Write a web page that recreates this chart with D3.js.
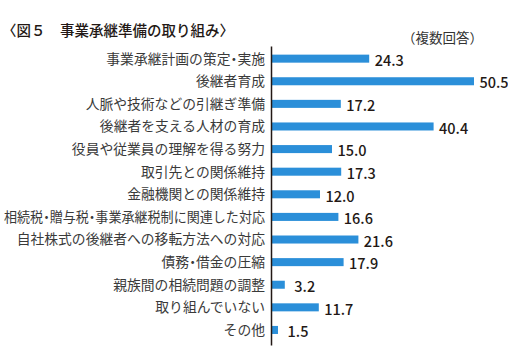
<!DOCTYPE html>
<html><head><meta charset="utf-8">
<script src="https://cdn.jsdelivr.net/npm/d3@7"></script>
<style>
html,body{margin:0;padding:0;background:#fff;}
svg{display:block;font-family:"Noto Sans CJK JP","Noto Sans",sans-serif;}
.lbl{font-feature-settings:"halt";}
</style></head>
<body>
<svg id="chart" width="508" height="358"></svg>
<script>
const titleText = "〈図５　事業承継準備の取り組み〉";
const noteText = "（複数回答）";
const categories = [
  "事業承継計画の策定・実施",
  "後継者育成",
  "人脈や技術などの引継ぎ準備",
  "後継者を支える人材の育成",
  "役員や従業員の理解を得る努力",
  "取引先との関係維持",
  "金融機関との関係維持",
  "相続税・贈与税・事業承継税制に関連した対応",
  "自社株式の後継者への移転方法への対応",
  "債務・借金の圧縮",
  "親族間の相続問題の調整",
  "取り組んでいない",
  "その他"
];
const values = [24.3, 50.5, 17.2, 40.4, 15.0, 17.3, 12.0, 16.6, 21.6, 17.9, 3.2, 11.7, 1.5];

const svg = d3.select("#chart");
const x0 = 272;
const x = d3.scaleLinear().domain([0, 50.5]).range([x0, x0 + 202]);
const y = d3.scaleBand().domain(categories).range([47.4, 341.2]).paddingInner(0.645).paddingOuter(0.32);

// title
svg.append("text").attr("x", 2).attr("y", 35.5)
  .attr("font-size", 14.5).attr("font-weight", 500).attr("fill", "#231815")
  .text(titleText);
svg.append("text").attr("x", 483).attr("y", 43)
  .attr("text-anchor", "end")
  .attr("font-size", 13.5).attr("fill", "#333")
  .text(noteText);

// bars
svg.append("g").selectAll("rect").data(values).join("rect")
  .attr("x", x(0))
  .attr("y", (d, i) => y(categories[i]))
  .attr("width", d => x(d) - x(0))
  .attr("height", y.bandwidth())
  .attr("fill", "#2b8fd9");

// category labels
svg.append("g").selectAll("text").data(categories).join("text")
  .attr("class", "lbl")
  .attr("x", 265)
  .attr("y", d => y(d) + y.bandwidth() / 2)
  .attr("dy", "0.36em")
  .attr("text-anchor", "end")
  .attr("font-size", 13.8)
  .attr("fill", "#3a3a3a")
  .text(d => d)
  .each(function() {
    const w = this.getComputedTextLength();
    if (w > 261) {
      d3.select(this).attr("textLength", 261).attr("lengthAdjust", "spacingAndGlyphs");
    }
  });

// value labels
svg.append("g").selectAll("text").data(values).join("text")
  .attr("x", d => x(d) + 20)
  .attr("y", (d, i) => y(categories[i]) + y.bandwidth() / 2 + 2)
  .attr("dy", "0.36em")
  .attr("text-anchor", "middle")
  .attr("font-size", 14.5)
  .attr("font-weight", 500)
  .attr("fill", "#231815")
  .text(d => d.toFixed(1));

// axis line
const axis = d3.axisLeft(y).tickSize(0).tickFormat("");
const g = svg.append("g").attr("transform", `translate(${x0 - 0.5},0)`).call(axis);
g.select(".domain").attr("d", "M0,46.5V345.5").attr("stroke", "#231815").attr("stroke-width", 1.5);
</script>
</body></html>
